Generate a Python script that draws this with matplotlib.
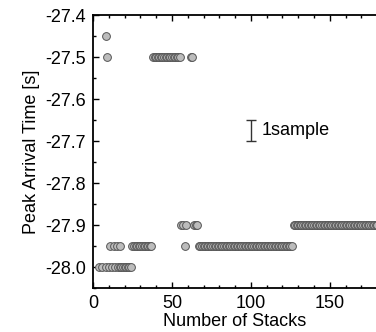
import numpy as np
import matplotlib
matplotlib.use("Agg")
import matplotlib.pyplot as plt
from matplotlib.ticker import MultipleLocator

plt.rcParams['font.family'] = ['Liberation Sans', 'DejaVu Sans']

# stack counts observed at each peak arrival time level [s]
stacks_2745 = [8]
stacks_2750 = [9] + list(range(38, 56)) + [62, 63]
stacks_2790 = [56, 57, 59, 64, 65, 66] + list(range(127, 181))
stacks_2795 = [11, 13, 15, 17] + list(range(25, 38)) + [58] + list(range(67, 127))
stacks_2800 = [4, 6, 8, 10, 12, 14] + list(range(16, 25))

levels = [-27.45, -27.50, -27.90, -27.95, -28.00]
groups = [stacks_2745, stacks_2750, stacks_2790, stacks_2795, stacks_2800]

x_ticks = [0, 50, 100, 150]

# scale bar for one sample step
bar_x = 100
bar_y = -27.675
bar_half = 0.025

fig = plt.figure(figsize=(3.76, 3.32), dpi=100)
ax = fig.add_axes([0.2473, 0.1325, 0.756, 0.8223])

for lv, xs in zip(levels, groups):
    ax.plot(xs, np.full(len(xs), lv), 'o', ms=5.6, mfc='#bcbcbc',
            mec='#555555', mew=0.7, ls='none', clip_on=False)

ax.errorbar([bar_x], [bar_y], yerr=[bar_half], fmt='none', ecolor='#333333',
            elinewidth=1.0, capsize=3.5, capthick=1.0)
ax.text(bar_x + 7, bar_y, '1sample', fontsize=13, va='center', ha='left')

ax.set_xlim(0, 180)
ax.set_ylim(-28.05, -27.4)
ax.set_xticks(x_ticks)
ax.xaxis.set_minor_locator(MultipleLocator(10))
ax.yaxis.set_major_locator(MultipleLocator(0.1))
ax.yaxis.set_minor_locator(MultipleLocator(0.05))
ax.yaxis.set_major_formatter(plt.FormatStrFormatter('%.1f'))

ax.tick_params(which='both', direction='in', top=True, right=False, width=1.0,
               labelsize=13)
ax.tick_params(which='major', length=4)
ax.tick_params(which='minor', length=2.5)
ax.tick_params(axis='x', pad=5)
ax.tick_params(axis='y', pad=5)
for s in ax.spines.values():
    s.set_linewidth(1.3)
ax.spines['right'].set_visible(False)

ax.set_xlabel('Number of Stacks', fontsize=13, labelpad=1)
ax.set_ylabel('Peak Arrival Time [s]', fontsize=13, labelpad=4)

fig.savefig('out.png', dpi=100)
